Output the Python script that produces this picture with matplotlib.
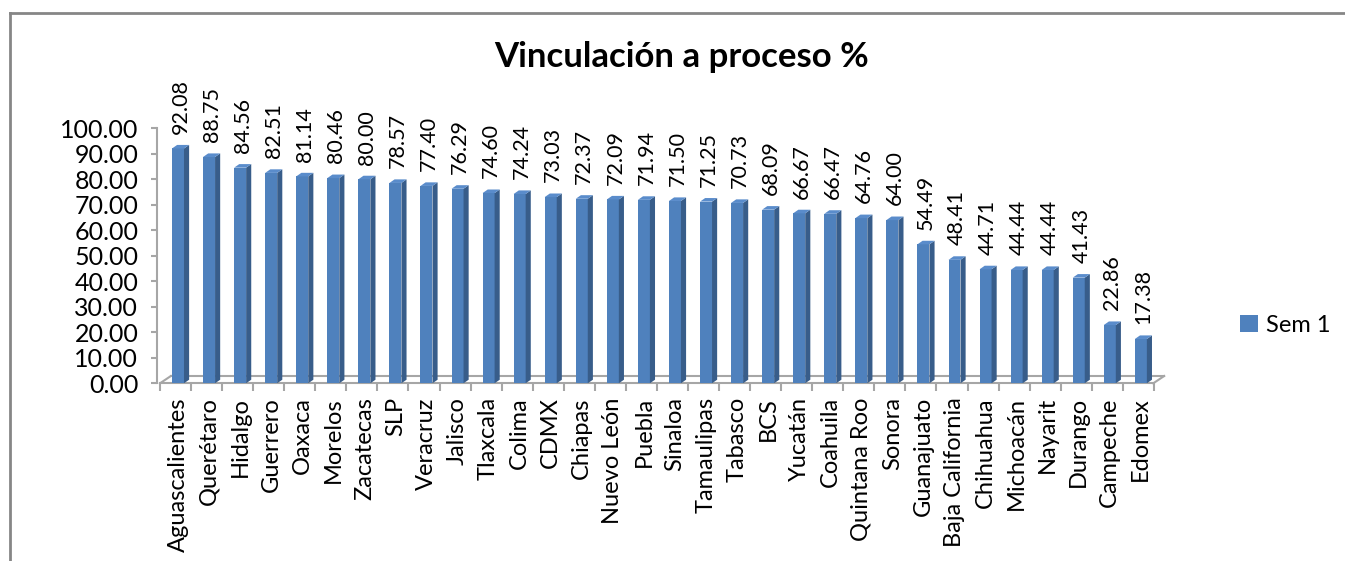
import matplotlib
matplotlib.use("Agg")
import matplotlib.pyplot as plt
from matplotlib.patches import Polygon, Patch

plt.rcParams['font.family'] = ['Lato', 'DejaVu Sans']

categories = ["Aguascalientes", "Querétaro", "Hidalgo", "Guerrero", "Oaxaca", "Morelos",
              "Zacatecas", "SLP", "Veracruz", "Jalisco", "Tlaxcala", "Colima", "CDMX",
              "Chiapas", "Nuevo León", "Puebla", "Sinaloa", "Tamaulipas", "Tabasco", "BCS",
              "Yucatán", "Coahuila", "Quintana Roo", "Sonora", "Guanajuato", "Baja California",
              "Chihuahua", "Michoacán", "Nayarit", "Durango", "Campeche", "Edomex"]
values = [92.08, 88.75, 84.56, 82.51, 81.14, 80.46, 80.00, 78.57, 77.40, 76.29, 74.60,
          74.24, 73.03, 72.37, 72.09, 71.94, 71.50, 71.25, 70.73, 68.09, 66.67, 66.47,
          64.76, 64.00, 54.49, 48.41, 44.71, 44.44, 44.44, 41.43, 22.86, 17.38]
yticks = [0, 10, 20, 30, 40, 50, 60, 70, 80, 90, 100]
series_name = "Sem 1"
title = "Vinculación a proceso %"

front_c = "#4F81BD"
side_c = "#385D8A"
top_c = "#5A8CCB"
axis_c = "#A6A6A6"

W, H = 1345, 561
fig = plt.figure(figsize=(W / 100, H / 100), dpi=100)
ax = fig.add_axes([157 / W, (H - 383.3) / H, (1165 - 157) / W, (383.3 - 128.3) / H])

n = len(values)
x = list(range(n))
bw = 0.386
dx, dy = 0.165, 1.4

ax.bar(x, values, width=bw, color=front_c, zorder=3)
for xi, v in zip(x, values):
    r = xi + bw / 2
    l = xi - bw / 2
    ax.add_patch(Polygon([(r, 0), (r + dx, dy), (r + dx, v + dy), (r, v)],
                         closed=True, facecolor=side_c, edgecolor='none', zorder=3))
    ax.add_patch(Polygon([(l, v), (r, v), (r + dx, v + dy), (l + dx, v + dy)],
                         closed=True, facecolor=top_c, edgecolor='none', zorder=3))
    ax.annotate(f"{v:.2f}", xy=(xi + dx / 2, v + dy), xytext=(0, 8),
                textcoords='offset points', rotation=90, ha='center', va='bottom',
                fontsize=15.5, color='black', annotation_clip=False)

ax.set_xlim(-0.676, 31.777)
ax.set_ylim(0, 100)

# floor
fl, fr, off, back = -0.58, 31.4, 0.35, 2.86
ax.plot([fl, fr], [0, 0], color=axis_c, lw=1.5, clip_on=False, zorder=2)
ax.plot([fl + off, fr + off], [back, back], color=axis_c, lw=1.5, clip_on=False, zorder=2)
ax.plot([fl, fl + off], [0, back], color=axis_c, lw=1.5, clip_on=False, zorder=2)
ax.plot([fr, fr + off], [0, back], color=axis_c, lw=1.5, clip_on=False, zorder=2)

for s in ['top', 'right', 'bottom']:
    ax.spines[s].set_visible(False)
ax.spines['left'].set_color(axis_c)
ax.spines['left'].set_linewidth(1.5)

ax.set_yticks(yticks)
ax.set_yticklabels([f"{t:.2f}" for t in yticks], fontsize=18)
ax.tick_params(axis='y', length=4, width=1.5, color=axis_c, pad=9.5)

ax.set_xticks(x)
ax.set_xticklabels(categories, rotation=90, fontsize=17, va='top', ha='center')
ax.set_xticks([k - 0.58 for k in range(n + 1)], minor=True)
ax.tick_params(axis='x', which='major', length=0, pad=10)
ax.tick_params(axis='x', which='minor', length=6, width=1.5, color=axis_c)

fig.text(682 / W, (H - 57) / H, title, ha='center', va='center', fontsize=25, fontweight='bold')

fig.legend(handles=[Patch(facecolor=front_c, label=series_name)], loc='center left',
           bbox_to_anchor=(1219 / W, (H - 325) / H), frameon=False, fontsize=17,
           handlelength=0.75, handleheight=0.75, handletextpad=0.35)

# chart border (left and top)
fig.add_artist(plt.Line2D([10 / W, 10 / W], [0, (H - 12.5) / H], color='#868686', lw=2))
fig.add_artist(plt.Line2D([10 / W, 1], [(H - 12.5) / H, (H - 12.5) / H], color='#868686', lw=2))

fig.savefig("out.png", dpi=100)
